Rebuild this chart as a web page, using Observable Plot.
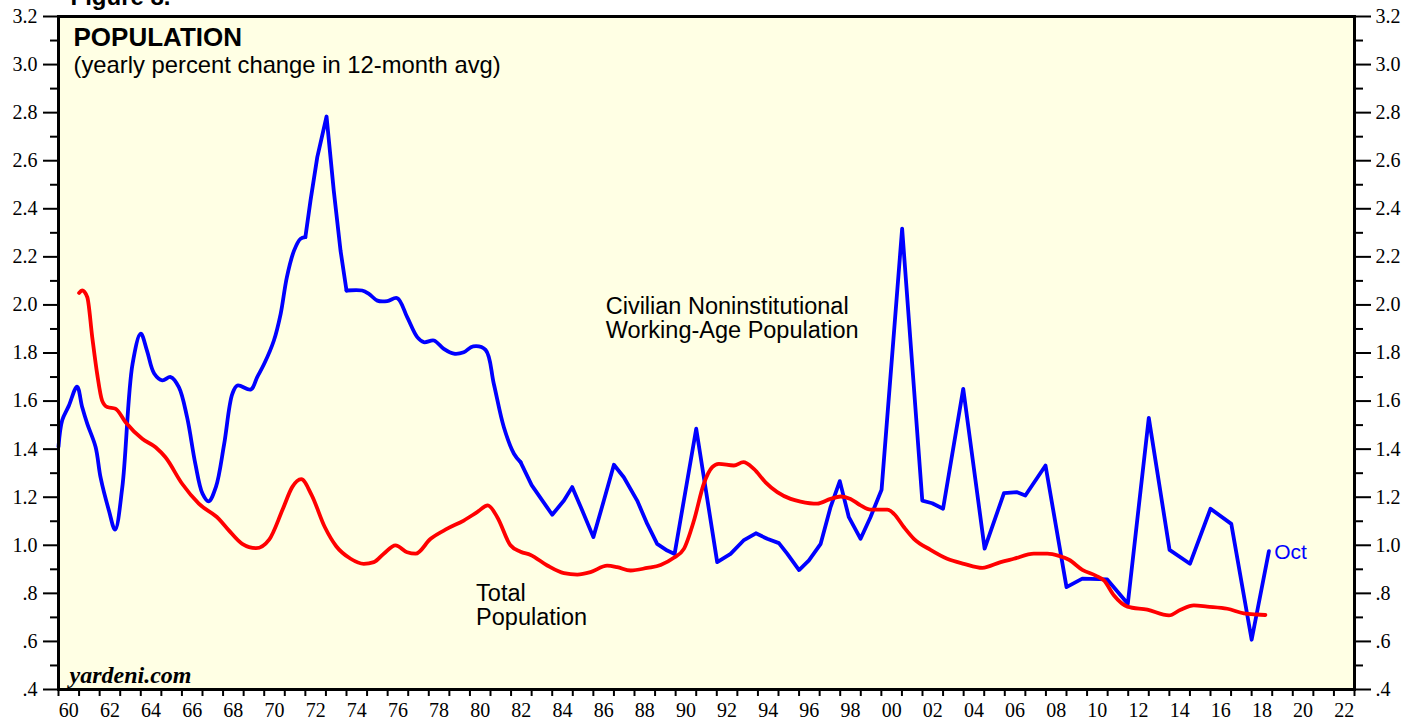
<!DOCTYPE html>
<html><head><meta charset="utf-8">
<script src="https://cdn.jsdelivr.net/npm/d3@7"></script>
<script src="https://cdn.jsdelivr.net/npm/@observablehq/plot@0.6"></script>
<style>html,body{margin:0;padding:0;background:#fff;overflow:hidden}</style>
</head><body><div id="chart"></div>
<script>
// Civilian Noninstitutional Working-Age Population (yearly % change in 12-month avg)
const civYears = [1960.0,1960.18,1960.5,1960.9,1961.15,1961.4,1961.8,1962.05,1962.45,1962.75,1963.1,1963.6,1964.0,1964.3,1964.65,1965.05,1965.45,1965.85,1966.25,1966.65,1967.0,1967.3,1967.65,1968.05,1968.45,1968.7,1969.35,1969.66,1970.0,1970.47,1970.8,1971.1,1971.45,1971.76,1972.0,1972.25,1972.58,1973.03,1973.38,1973.71,1974.0,1974.76,1975.09,1975.5,1975.98,1976.47,1976.95,1977.44,1977.76,1978.25,1978.73,1979.22,1979.7,1980.16,1980.76,1981.16,1981.65,1982.14,1982.46,1983.0,1984.0,1984.57,1984.97,1985.46,1986.0,1986.51,1987.0,1987.48,1988.13,1988.62,1989.1,1989.59,1989.95,1991.0,1992.02,1992.67,1993.3,1993.9,1994.45,1995.02,1995.43,1996.0,1996.48,1997.05,1997.53,1997.98,1998.42,1998.99,1999.47,2000.01,2001.01,2001.99,2002.47,2003.0,2003.98,2005.02,2005.96,2006.6,2007.0,2007.98,2009.0,2009.77,2010.98,2011.98,2013.0,2014.01,2015.0,2016.0,2017.01,2018.0,2018.84];
const civValues = [1.41,1.52,1.58,1.66,1.575,1.505,1.41,1.28,1.145,1.065,1.24,1.755,1.88,1.81,1.715,1.686,1.70,1.658,1.533,1.34,1.215,1.183,1.242,1.42,1.63,1.665,1.648,1.70,1.755,1.852,1.963,2.115,2.226,2.275,2.282,2.434,2.615,2.784,2.476,2.226,2.06,2.06,2.046,2.018,2.016,2.028,1.949,1.866,1.845,1.852,1.817,1.797,1.803,1.828,1.813,1.672,1.491,1.381,1.346,1.25,1.127,1.186,1.242,1.145,1.034,1.186,1.335,1.283,1.186,1.089,1.006,0.978,0.964,1.485,0.93,0.964,1.02,1.05,1.027,1.009,0.964,0.897,0.937,1.006,1.159,1.267,1.117,1.027,1.117,1.231,2.317,1.186,1.175,1.152,1.651,0.986,1.217,1.221,1.207,1.332,0.826,0.861,0.858,0.757,1.53,0.981,0.923,1.152,1.089,0.607,0.976];

// Total Population (yearly % change in 12-month avg)
const totYears = [1961.0,1961.15,1961.4,1961.64,1961.88,1962.12,1962.37,1962.77,1963.26,1964.07,1964.72,1965.2,1966.01,1966.82,1967.79,1968.28,1968.93,1969.6,1970.25,1970.9,1971.36,1971.8,1972.3,1972.95,1973.5,1974.2,1974.84,1975.33,1975.81,1976.38,1976.95,1977.36,1978.09,1978.9,1979.7,1980.35,1980.87,1981.33,1981.97,1982.46,1982.95,1983.76,1984.57,1985.22,1985.86,1986.67,1987.16,1987.81,1988.62,1989.27,1989.91,1990.4,1990.89,1991.37,1991.78,1992.1,1992.83,1993.29,1993.8,1994.37,1994.94,1995.59,1996.07,1996.88,1997.53,1998.02,1998.5,1998.99,1999.47,2000.29,2000.61,2001.1,2001.58,2002.39,2003.2,2004.01,2004.91,2005.8,2006.44,2007.41,2008.07,2008.63,2009.12,2009.77,2010.42,2010.82,2011.31,2011.96,2012.93,2013.98,2014.55,2015.19,2015.84,2016.82,2017.62,2018.27,2018.67];
const totValues = [2.05,2.06,2.032,1.866,1.713,1.602,1.575,1.568,1.512,1.443,1.408,1.366,1.256,1.173,1.11,1.062,1.006,0.988,1.025,1.15,1.242,1.275,1.21,1.075,0.996,0.944,0.923,0.93,0.965,1.0,0.971,0.965,1.027,1.069,1.103,1.138,1.166,1.117,1.0,0.973,0.96,0.916,0.884,0.878,0.888,0.915,0.909,0.895,0.906,0.918,0.948,0.985,1.103,1.256,1.325,1.339,1.332,1.346,1.318,1.262,1.221,1.193,1.182,1.173,1.193,1.203,1.193,1.166,1.148,1.148,1.131,1.075,1.027,0.981,0.944,0.923,0.906,0.93,0.944,0.965,0.965,0.956,0.94,0.898,0.874,0.854,0.791,0.745,0.732,0.708,0.732,0.75,0.745,0.736,0.717,0.712,0.71];

const yMajorTicks = [0.4,0.6,0.8,1.0,1.2,1.4,1.6,1.8,2.0,2.2,2.4,2.6,2.8,3.0,3.2];
const yTickLabels = [".4",".6",".8","1.0","1.2","1.4","1.6","1.8","2.0","2.2","2.4","2.6","2.8","3.0","3.2"];
const yMinorTicks = [0.5,0.7,0.9,1.1,1.3,1.5,1.7,1.9,2.1,2.3,2.5,2.7,2.9,3.1];
const xYearTicks = [1960,1961,1962,1963,1964,1965,1966,1967,1968,1969,1970,1971,1972,1973,1974,1975,1976,1977,1978,1979,1980,1981,1982,1983,1984,1985,1986,1987,1988,1989,1990,1991,1992,1993,1994,1995,1996,1997,1998,1999,2000,2001,2002,2003,2004,2005,2006,2007,2008,2009,2010,2011,2012,2013,2014,2015,2016,2017,2018,2019,2020,2021,2022,2023];
const xLabelYears = [1960,1962,1964,1966,1968,1970,1972,1974,1976,1978,1980,1982,1984,1986,1988,1990,1992,1994,1996,1998,2000,2002,2004,2006,2008,2010,2012,2014,2016,2018,2020,2022];
const xTickLabels = ["60","62","64","66","68","70","72","74","76","78","80","82","84","86","88","90","92","94","96","98","00","02","04","06","08","10","12","14","16","18","20","22"];

// Which stretches of the blue series are drawn smooth vs. straight
const civSegments = [
  {from: 1960.0, to: 1972.0, curve: "catmull-rom"},
  {from: 1972.0, to: 1974.0, curve: "linear"},
  {from: 1974.0, to: 1982.46, curve: "catmull-rom"},
  {from: 1982.46, to: 2018.84, curve: "linear"}
];

const annotations = [
  {x: 1986.6, y: 2.035, text: "Civilian Noninstitutional\nWorking-Age Population", fill: "black"},
  {x: 1980.3, y: 0.838, text: "Total\nPopulation", fill: "black"}
];

const civ = civYears.map((x, i) => ({x, y: civValues[i]}));
const tot = totYears.map((x, i) => ({x, y: totValues[i]}));
const labelPos = xLabelYears.map(d => d + 0.5);

const sans = "'Liberation Sans', Arial, Helvetica, sans-serif";
const serif = "'Liberation Serif', 'Times New Roman', serif";

const civMarks = civSegments.map(s =>
  Plot.line(civ.filter(d => d.x >= s.from && d.x <= s.to),
    {x: "x", y: "y", stroke: "#0000ff", strokeWidth: 3.8, curve: s.curve}));

const plot = Plot.plot({
  width: 1419, height: 721,
  marginLeft: 58, marginRight: 65, marginTop: 16, marginBottom: 32,
  style: {fontFamily: serif, fontSize: "20px", color: "black", background: "white", overflow: "visible"},
  x: {domain: [1960, 2023], label: null},
  y: {domain: [0.4, 3.2], label: null},
  marks: [
    Plot.frame({fill: "#ffffe4", stroke: null}),
    Plot.axisY({anchor: "left", ticks: yMinorTicks, tickSize: 8, tickFormat: () => "", strokeWidth: 2, label: null}),
    Plot.axisY({anchor: "left", ticks: yMajorTicks, tickSize: 15, tickPadding: 6, strokeWidth: 2, label: null,
      tickFormat: d => yTickLabels[yMajorTicks.indexOf(d)], fontFamily: serif, fontSize: 20}),
    Plot.axisY({anchor: "right", ticks: yMinorTicks, tickSize: 8, tickFormat: () => "", strokeWidth: 2, label: null}),
    Plot.axisY({anchor: "right", ticks: yMajorTicks, tickSize: 16, tickPadding: 5, strokeWidth: 2, label: null,
      tickFormat: d => yTickLabels[yMajorTicks.indexOf(d)], fontFamily: serif, fontSize: 20}),
    Plot.axisX({anchor: "bottom", ticks: xYearTicks, tickSize: 7, tickFormat: () => "", strokeWidth: 2, label: null}),
    Plot.axisX({anchor: "bottom", ticks: labelPos, tickSize: 0, tickPadding: 13, label: null,
      tickFormat: d => xTickLabels[labelPos.indexOf(d)], fontFamily: serif, fontSize: 20}),
    ...civMarks,
    Plot.line(tot, {x: "x", y: "y", stroke: "#ff0000", strokeWidth: 3.8, curve: "monotone-x"}),
    Plot.text(annotations, {x: "x", y: "y", text: "text", fill: "fill", textAnchor: "start", lineAnchor: "top",
      lineHeight: 1.02, fontFamily: sans, fontSize: 23.5}),
    Plot.text(["Oct"], {x: [2019.1], y: [0.97], text: d => d, fill: "#0000ff", textAnchor: "start",
      lineAnchor: "middle", fontFamily: sans, fontSize: 21}),
    Plot.text(["POPULATION"], {text: d => d, frameAnchor: "top-left", dx: 15, dy: 29, lineAnchor: "bottom",
      textAnchor: "start", fontFamily: sans, fontWeight: "bold", fontSize: 26}),
    Plot.text(["(yearly percent change in 12-month avg)"], {text: d => d, frameAnchor: "top-left", dx: 15, dy: 56,
      lineAnchor: "bottom", textAnchor: "start", fontFamily: sans, fontSize: 23.8}),
    Plot.text(["Figure 8."], {text: d => d, frameAnchor: "top-left", dx: 12, dy: -12, lineAnchor: "bottom",
      textAnchor: "start", fontFamily: sans, fontWeight: "bold", fontSize: 24}),
    Plot.text(["yardeni.com"], {text: d => d, frameAnchor: "bottom-left", dx: 11, dy: -7, lineAnchor: "bottom",
      textAnchor: "start", fontFamily: serif, fontStyle: "italic", fontWeight: "bold", fontSize: 24}),
    Plot.frame({stroke: "black", strokeWidth: 3})
  ]
});
document.getElementById("chart").appendChild(plot);
</script>
</body></html>
